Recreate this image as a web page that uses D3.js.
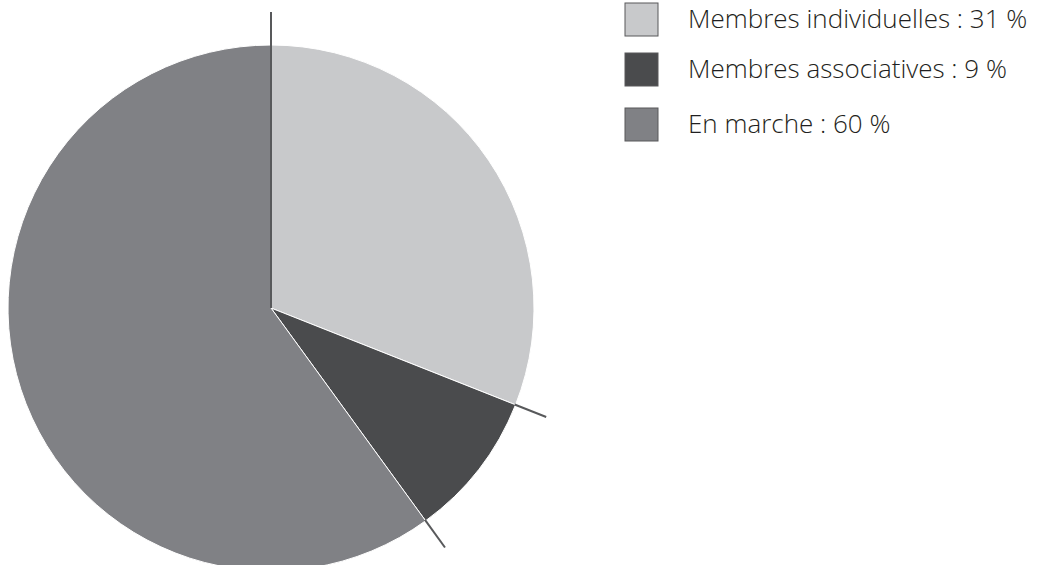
<!DOCTYPE html>
<html>
<head>
<meta charset="utf-8">
<script src="https://cdn.jsdelivr.net/npm/d3@7"></script>
<style>
  html, body { margin: 0; padding: 0; background: #fff; }
  svg { display: block; }
</style>
</head>
<body>
<svg id="chart" width="1040" height="565"></svg>
<script>
const categories = ["Membres individuelles", "Membres associatives", "En marche"];
const values = [31, 9, 60];
const legendLabels = ["Membres individuelles : 31 %", "Membres associatives : 9 %", "En marche : 60 %"];
const colors = ["#c8c9cb", "#4a4b4d", "#808185"];

const svg = d3.select("#chart");
const cx = 271, cy = 308, r = 263, tickR = 296;

const pie = d3.pie().sort(null).value(d => d)(values);
const arc = d3.arc().innerRadius(0).outerRadius(r);

const g = svg.append("g").attr("transform", `translate(${cx},${cy})`);
g.selectAll("path.slice")
  .data(pie)
  .join("path")
  .attr("class", "slice")
  .attr("d", arc)
  .attr("fill", (d, i) => colors[i])
  .attr("stroke", "#ffffff")
  .attr("stroke-width", 1)
  .attr("stroke-linejoin", "round");

// boundary tick lines
const boundaries = pie.map(d => d.startAngle);
g.selectAll("line.tick")
  .data(boundaries)
  .join("line")
  .attr("class", "tick")
  .attr("x1", (a, i) => (i === 0 ? 0 : r - 1) * Math.sin(a))
  .attr("y1", (a, i) => -(i === 0 ? 0 : r - 1) * Math.cos(a))
  .attr("x2", a => tickR * Math.sin(a))
  .attr("y2", a => -tickR * Math.cos(a))
  .attr("stroke", "#58595b")
  .attr("stroke-width", 2);

// legend
const legendY = [3, 53, 108];
const leg = svg.append("g");
const items = leg.selectAll("g.item")
  .data(legendLabels)
  .join("g")
  .attr("class", "item")
  .attr("transform", (d, i) => `translate(625,${legendY[i]})`);
items.append("rect")
  .attr("x", 0).attr("y", 0)
  .attr("width", 33).attr("height", 33)
  .attr("fill", (d, i) => colors[i])
  .attr("stroke", "#58595b")
  .attr("stroke-width", 1);
items.append("text")
  .attr("x", 63)
  .attr("y", 25)
  .attr("font-family", "'Open Sans', Lato, sans-serif")
  .attr("font-size", 26)
  .attr("font-weight", 300)
  .attr("fill", "#1f1f21")
  .text(d => d);
</script>
</body>
</html>
